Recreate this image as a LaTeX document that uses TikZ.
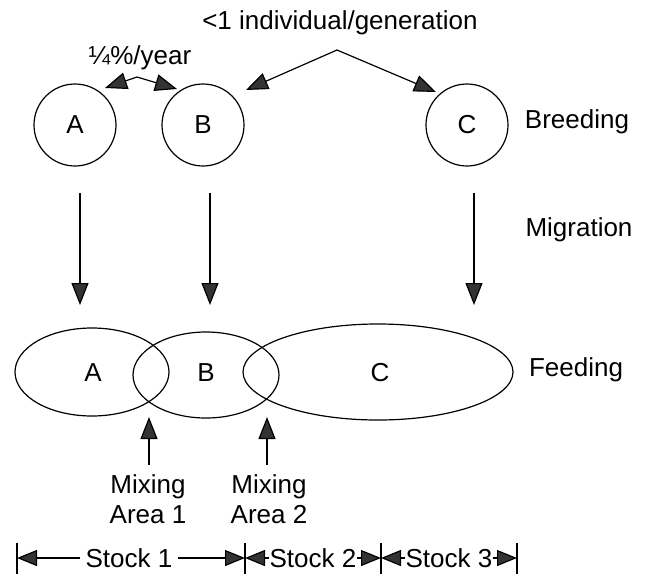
\documentclass[tikz,border=0pt]{standalone}
\usepackage{fontspec}
\setmainfont{Liberation Sans}
\usetikzlibrary{arrows.meta,shapes.geometric}
\tikzset{
  arr/.style={-{Triangle[length=22pt,width=17pt,fill=gray!40!black]}},
  darr/.style={{Triangle[length=22pt,width=17pt,fill=gray!40!black]}-{Triangle[length=22pt,width=17pt,fill=gray!40!black]}},
  sarr/.style={-{Triangle[length=20pt,width=16pt,fill=gray!40!black]}},
  site/.style={circle,draw,minimum size=82pt,inner sep=0pt},
  area/.style={ellipse,draw,inner sep=0pt},
}
\begin{document}
\begin{tikzpicture}[x=1pt,y=-1pt,line width=1.2pt,font=\fontsize{26}{30}\selectfont]
\useasboundingbox (0,0) rectangle (648,574);
% breeding grounds
\node[site] (bA) at (75,125) {A};
\node[site] (bB) at (203,125) {B};
\node[site] (bC) at (467,125) {C};
\node (breed) at (577,122) {Breeding};
% exchange between breeding grounds
\node (rate) at (140,58) {¼\%/year};
\coordinate (ra) at (105,88);
\coordinate (rp) at (137,77);
\coordinate (rb) at (177,89);
\draw[darr] (ra) -- (rp) -- (rb);
\node (gen) at (340,23) {<1 individual/generation};
\coordinate (apex) at (337,50);
\coordinate (gB) at (246,90);
\coordinate (gC) at (436,92);
\draw[arr] (apex) -- (gB);
\draw[arr] (apex) -- (gC);
% migration
\node (migr) at (579,230) {Migration};
\foreach \n/\x in {A/80,B/210,C/474} {
  \coordinate (m\n) at (\x,193);
  \coordinate (f\n) at (\x,305);
  \draw[arr] (m\n) -- (f\n);
}
% feeding grounds
\node[area,minimum width=154pt,minimum height=88pt] (eA) at (92,372) {};
\node[area,minimum width=146pt,minimum height=86pt] (eB) at (206,375) {};
\node[area,minimum width=270pt,minimum height=96pt] (eC) at (378,372) {};
\node (lA) at (93,373) {A};
\node (lB) at (206,373) {B};
\node (lC) at (380,373) {C};
\node (feed) at (576,370) {Feeding};
% mixing areas
\node[align=center,inner sep=1pt] (mix1) at (148,499) {Mixing\\Area 1};
\node[align=center,inner sep=1pt] (mix2) at (269,499) {Mixing\\Area 2};
\coordinate (x1) at (149,417);
\coordinate (x2) at (267,417);
\draw[arr] ([yshift=8pt]mix1.north -| x1) -- (x1);
\draw[arr] ([yshift=8pt]mix2.north -| x2) -- (x2);
% stocks
\foreach \n/\x in {0/17,1/245,2/381,3/517} {
  \coordinate (t\n) at (\x,558);
  \draw (\x,543) -- (\x,574);
}
\node[inner sep=0pt] (s1) at (129,558) {Stock 1};
\node[inner sep=0pt] (s2) at (313,558) {Stock 2};
\node[inner sep=0pt] (s3) at (449,558) {Stock 3};
\draw[sarr] ([xshift=-5pt]s1.west) -- (t0);
\draw[sarr] ([xshift=5pt]s1.east) -- (t1);
\draw[sarr] (s2.west) -- (t1);
\draw[sarr] (s2.east) -- (t2);
\draw[sarr] (s3.west) -- (t2);
\draw[sarr] (s3.east) -- (t3);
\end{tikzpicture}
\end{document}
